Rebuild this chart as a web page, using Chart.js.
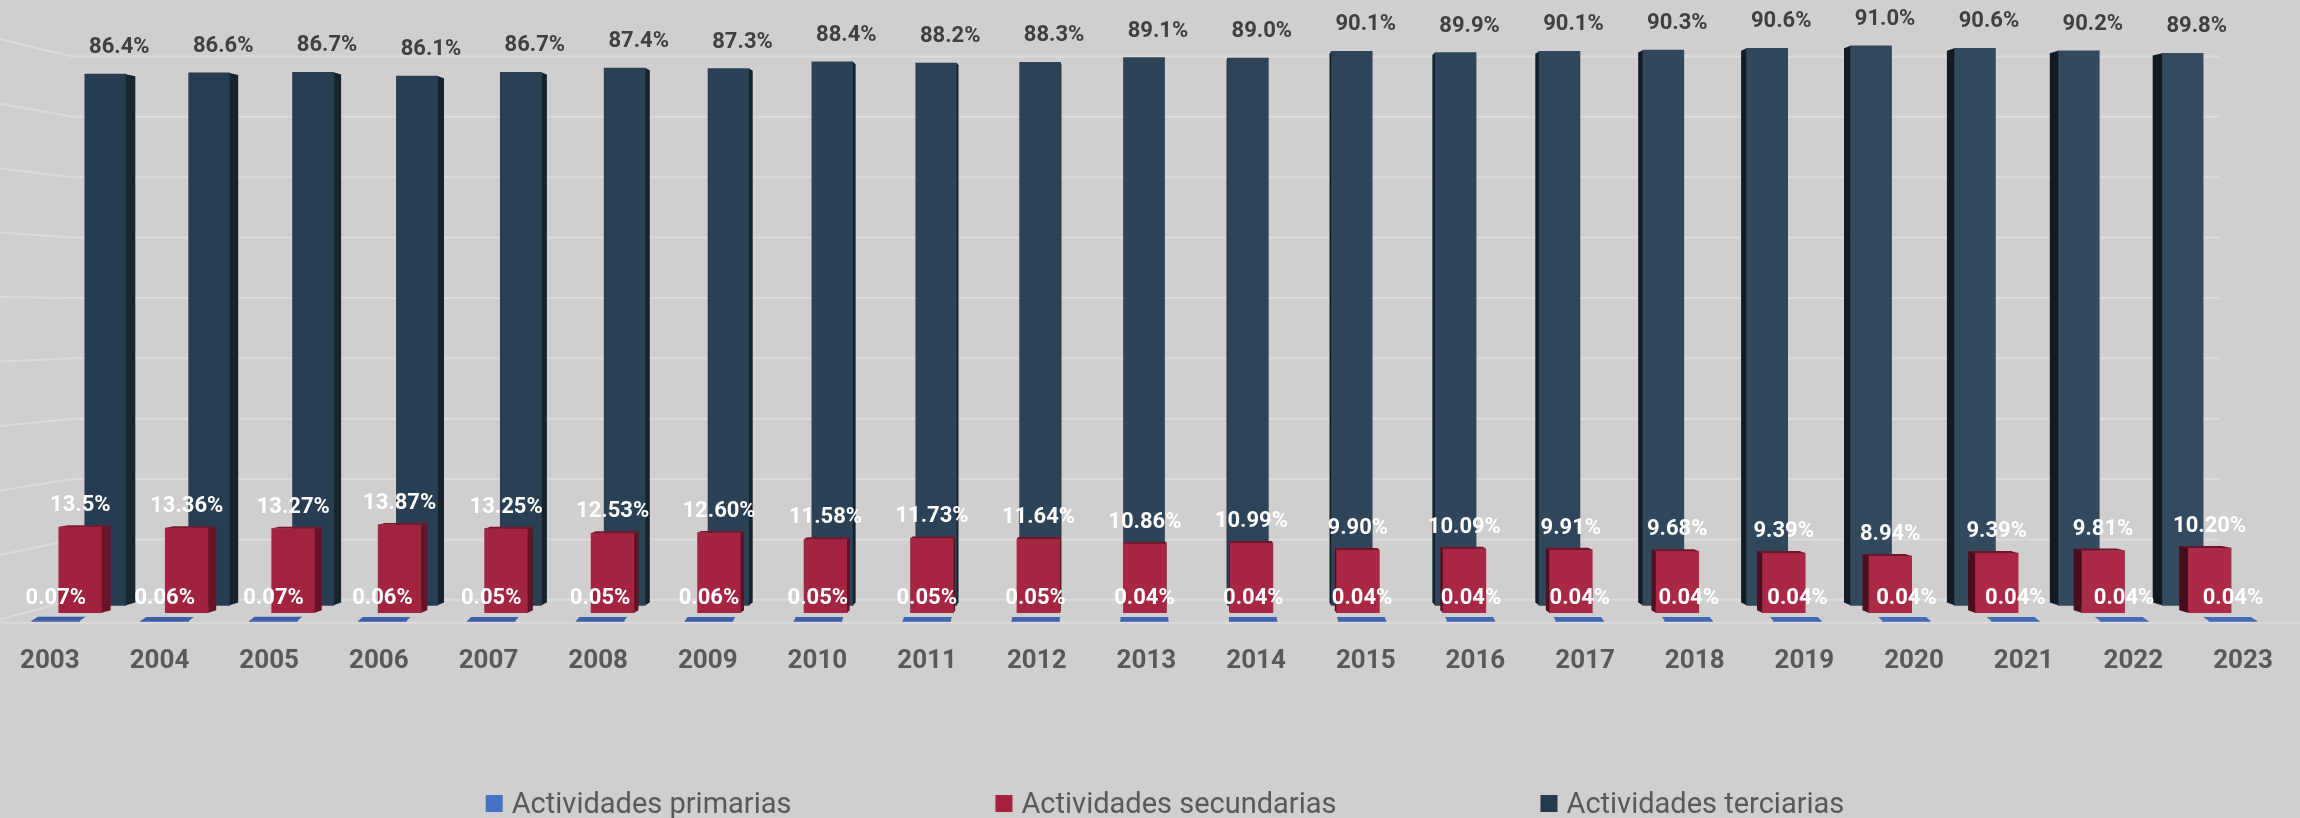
<!DOCTYPE html>
<html>
<head>
<meta charset="utf-8">
<script src="https://cdn.jsdelivr.net/npm/chart.js@4.4.1/dist/chart.umd.min.js"></script>
<style>
	html, body { margin: 0; padding: 0; background: #d0cece; }
	canvas { display: block; }
</style>
</head>
<body>
<canvas id="myChart" width="2300" height="818"></canvas>
<script>
const years = ["2003", "2004", "2005", "2006", "2007", "2008", "2009", "2010", "2011", "2012", "2013",
	"2014", "2015", "2016", "2017", "2018", "2019", "2020", "2021", "2022", "2023"];
const primarias = [0.07, 0.06, 0.07, 0.06, 0.05, 0.05, 0.06, 0.05, 0.05, 0.05, 0.04,
	0.04, 0.04, 0.04, 0.04, 0.04, 0.04, 0.04, 0.04, 0.04, 0.04];
// kept as text so the labels print exactly as in the source (13.5 vs 13.36)
const secundarias = ["13.5", "13.36", "13.27", "13.87", "13.25", "12.53", "12.60", "11.58", "11.73", "11.64", "10.86",
	"10.99", "9.90", "10.09", "9.91", "9.68", "9.39", "8.94", "9.39", "9.81", "10.20"];
const terciarias = [86.4, 86.6, 86.7, 86.1, 86.7, 87.4, 87.3, 88.4, 88.2, 88.3, 89.1,
	89.0, 90.1, 89.9, 90.1, 90.3, 90.6, 91.0, 90.6, 90.2, 89.8];
const wallSteps = [0, 10, 20, 30, 40, 50, 60, 70, 80, 90];

const EYE_Y = 310; // horizon of the fake 3d view

function mix(a, b, t) {
	return "rgb(" + a.map((c, i) => Math.round(c + (b[i] - c) * t)).join(",") + ")";
}
function shade(from, to) {
	return (c) => mix(from, to, c.dataIndex / (years.length - 1));
}
function poly(ctx, pts) {
	ctx.beginPath();
	ctx.moveTo(pts[0][0], pts[0][1]);
	for (let k = 1; k < pts.length; k++) ctx.lineTo(pts[k][0], pts[k][1]);
	ctx.closePath();
	ctx.fill();
}

// back wall grid lines + left wall + floor edge
const wallPlugin = {
	id: "wall",
	beforeDatasetsDraw(chart) {
		const ctx = chart.ctx;
		const a = chart.chartArea;
		const yG = chart.scales.yG;
		const vx = (a.left + a.right) / 2;
		const left = a.left + 23;
		const right = a.right - 24;
		const s = left / (vx - left);
		ctx.save();
		ctx.strokeStyle = "#dcdada";
		ctx.lineWidth = 2;
		wallSteps.forEach((v) => {
			const y = yG.getPixelForValue(v);
			ctx.beginPath();
			ctx.moveTo(0, y + s * (y - EYE_Y));
			ctx.lineTo(left, y);
			ctx.lineTo(right, y);
			ctx.stroke();
		});
		ctx.beginPath();
		ctx.moveTo(0, a.bottom - 3);
		ctx.lineTo(chart.width, a.bottom - 3);
		ctx.stroke();
		ctx.restore();
	},
};

// side and top faces of every bar
const bars3d = {
	id: "bars3d",
	afterDatasetDraw(chart, args) {
		const ds = chart.data.datasets[args.index];
		const d = ds.depth;
		if (!d) return;
		const ctx = chart.ctx;
		const vx = (chart.chartArea.left + chart.chartArea.right) / 2;
		ctx.save();
		args.meta.data.forEach((bar, i) => {
			const p = bar.getProps(["x", "y", "base", "width"], true);
			const hw = p.width / 2;
			const t = i / (years.length - 1);
			const back = (px, py) => [px + (vx - px) * d.fx, py + (EYE_Y - py) * d.fy];
			if (d.side) {
				const ex = p.x + (vx > p.x ? hw : -hw);
				ctx.fillStyle = mix(d.side[0], d.side[1], t);
				poly(ctx, [[ex, p.y], back(ex, p.y), back(ex, p.base), [ex, p.base]]);
			}
			if (d.top && p.y > EYE_Y) {
				ctx.fillStyle = mix(d.top[0], d.top[1], t);
				poly(ctx, [[p.x - hw, p.y], [p.x + hw, p.y], back(p.x + hw, p.y), back(p.x - hw, p.y)]);
			}
		});
		ctx.restore();
	},
};

const valueLabels = {
	id: "valueLabels",
	afterDatasetsDraw(chart) {
		const ctx = chart.ctx;
		chart.data.datasets.forEach((ds, di) => {
			const meta = chart.getDatasetMeta(di);
			ctx.save();
			ctx.font = "bold 22px Roboto";
			ctx.fillStyle = ds.labelColor;
			ctx.textAlign = "center";
			ctx.textBaseline = "alphabetic";
			meta.data.forEach((bar, i) => {
				const v = ds.data[i];
				const txt = (typeof v === "string" ? v : v.toFixed(ds.decimals)) + "%";
				ctx.fillText(txt, bar.x + ds.labelShift[0], bar.y + ds.labelShift[1]);
			});
			ctx.restore();
		});
	},
};

const bottomLegend = {
	id: "bottomLegend",
	afterDraw(chart) {
		const ctx = chart.ctx;
		const items = chart.data.datasets;
		const box = 17, gapText = 9, gapItem = 204;
		ctx.save();
		ctx.font = "29px Roboto";
		const widths = items.map((ds) => box + gapText + ctx.measureText(ds.label).width);
		const total = widths.reduce((s, w) => s + w, 0) + gapItem * (items.length - 1);
		let x = (chart.width - total) / 2 + 15;
		const y = 813;
		items.forEach((ds, i) => {
			ctx.fillStyle = ds.legendColor;
			ctx.fillRect(x, y - 18, box, box);
			ctx.fillStyle = "#595959";
			ctx.textAlign = "left";
			ctx.textBaseline = "alphabetic";
			ctx.fillText(ds.label, x + box + gapText, y);
			x += widths[i] + gapItem;
		});
		ctx.restore();
	},
};

document.addEventListener("DOMContentLoaded", function () {
	const ctx = document.getElementById("myChart").getContext("2d");
	const myChart = new Chart(ctx, {
		type: "bar",
		data: {
			labels: years,
			datasets: [
				{
					label: "Actividades primarias",
					data: primarias,
					xAxisID: "xP",
					yAxisID: "yP",
					grouped: false,
					backgroundColor: shade([58, 94, 166], [66, 108, 186]),
					barThickness: 48,
					clip: false,
					legendColor: "#4472c4",
					labelColor: "#ffffff",
					decimals: 2,
					labelShift: [0, -17],
					depth: { fx: 0.0055, fy: 0.013, top: [[58, 94, 166], [66, 108, 186]] },
				},
				{
					label: "Actividades secundarias",
					data: secundarias,
					xAxisID: "xS",
					yAxisID: "yS",
					grouped: false,
					backgroundColor: shade([160, 34, 63], [172, 42, 72]),
					barThickness: 43,
					clip: false,
					legendColor: "#a2223f",
					labelColor: "#ffffff",
					labelShift: [0, -16],
					depth: { fx: 0.0085, fy: 0.0085, side: [[106, 20, 41], [70, 14, 28]], top: [[122, 24, 47], [110, 20, 42]] },
				},
				{
					label: "Actividades terciarias",
					data: terciarias,
					xAxisID: "xT",
					yAxisID: "yT",
					grouped: false,
					backgroundColor: shade([38, 60, 80], [52, 75, 95]),
					barThickness: 41,
					clip: false,
					legendColor: "#243a4f",
					labelColor: "#404040",
					decimals: 1,
					labelShift: [14, -21],
					depth: { fx: 0.0093, fy: 0.0093, side: [[23, 37, 47], [17, 26, 34]] },
				},
			],
		},
		options: {
			responsive: false,
			animation: false,
			layout: { padding: { left: 47, right: 57, top: 10, bottom: 121 } },
			plugins: {
				legend: { display: false },
				tooltip: { enabled: false },
			},
			scales: {
				x: {
					type: "category",
					offset: false,
					grid: { display: false, drawTicks: false },
					border: { display: false },
					ticks: {
						autoSkip: false,
						maxRotation: 0,
						padding: 20,
						color: "#595959",
						font: { family: "Roboto", size: 26, weight: "bold" },
					},
				},
				xT: { type: "linear", display: false, offset: false, min: 2002.466, max: 2023.581 },
				xS: { type: "linear", display: false, offset: false, min: 2002.714, max: 2023.314 },
				xP: { type: "linear", display: false, offset: false, min: 2002.945, max: 2023.092 },
				yT: { type: "linear", display: false, min: -3.33, max: 96.83 },
				yS: { type: "linear", display: false, min: -2.05, max: 94.96 },
				yP: { type: "linear", display: false, min: -0.7, max: 95.55 },
				yG: { type: "linear", display: false, min: -4.3, max: 97.68 },
			},
		},
		plugins: [wallPlugin, bars3d, valueLabels, bottomLegend],
	});
});
</script>
</body>
</html>
